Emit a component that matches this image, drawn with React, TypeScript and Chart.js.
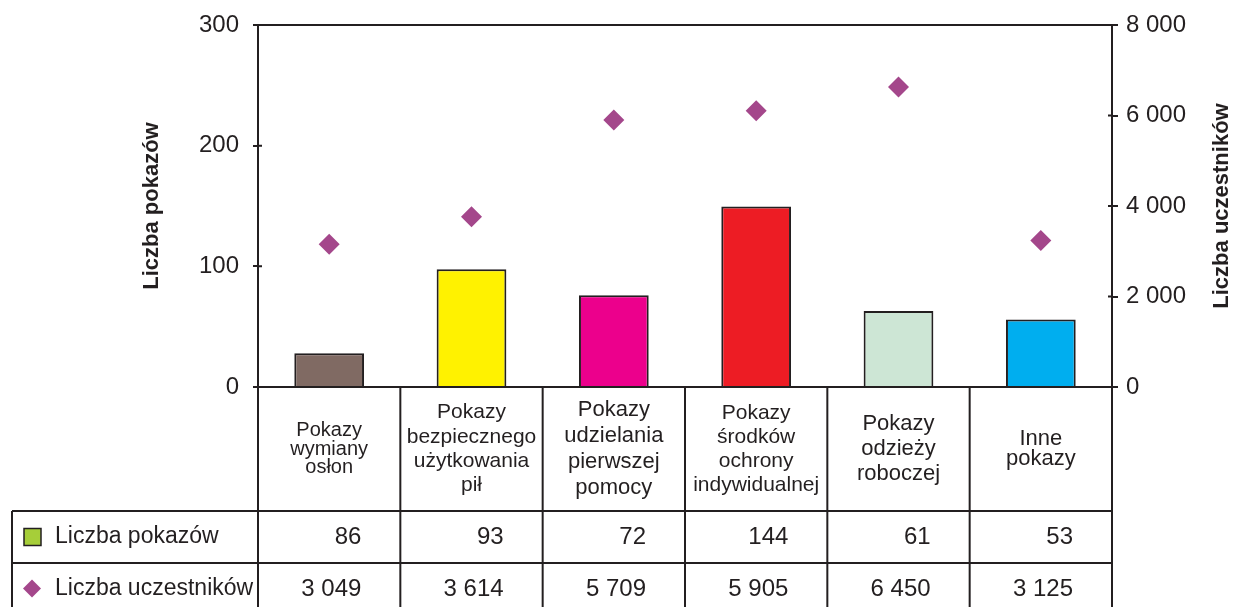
import React, { useEffect, useRef } from "react";
import { Chart, registerables } from "chart.js";

Chart.register(...registerables);

// ---- data ----
const categories: string[][] = [
  ["Pokazy", "wymiany", "osłon"],
  ["Pokazy", "bezpiecznego", "użytkowania", "pił"],
  ["Pokazy", "udzielania", "pierwszej", "pomocy"],
  ["Pokazy", "środków", "ochrony", "indywidualnej"],
  ["Pokazy", "odzieży", "roboczej"],
  ["Inne", "pokazy"],
];
// bar heights as drawn in the picture (left axis)
const barValues = [28, 97.5, 76, 149.5, 63, 56];
// diamond positions as drawn in the picture (right axis)
const participantValues = [3155, 3760, 5900, 6105, 6630, 3235];
// values printed in the data table
const tableCounts = [86, 93, 72, 144, 61, 53];
const tableParticipants = [3049, 3614, 5709, 5905, 6450, 3125];
const seriesNames = ["Liczba pokazów", "Liczba uczestników"];
const axisTitles = ["Liczba pokazów", "Liczba uczestników"];
const leftAxisRange = [0, 300, 100];
const rightAxisRange = [0, 8000, 2000];

// ---- styles ----
const INK = "#231f20";
const FONT = "'Liberation Sans', Arial, Helvetica, sans-serif";
const barColors = ["#806a63", "#fff200", "#ec008c", "#ed1c24", "#cde6d5", "#00aeef"];
const diamondColor = "#a4478b";
const legendSquareColor = "#a6ce39";
const labelStyles = [
  { size: 20, lh: 18.5 },
  { size: 21, lh: 24.4 },
  { size: 22, lh: 26 },
  { size: 21, lh: 24 },
  { size: 22, lh: 25 },
  { size: 22, lh: 20 },
];

const fmt = (v: number) => String(v).replace(/\B(?=(\d{3})+(?!\d))/g, " ");

const tablePlugin = {
  id: "tablePlugin",
  afterDraw(chart: any) {
    const { ctx, chartArea } = chart;
    const { left, right, top, bottom } = chartArea;
    const H = chart.height;
    const n = categories.length;
    const cw = (right - left) / n;
    const xs = chart.scales.x;
    const row1Top = 511;
    const row2Top = 563;
    const tableLeft = 12;

    ctx.save();
    ctx.strokeStyle = INK;
    ctx.lineWidth = 2;
    ctx.beginPath();
    ctx.moveTo(left, top);
    ctx.lineTo(right, top);
    ctx.moveTo(left, bottom);
    ctx.lineTo(right, bottom);
    for (let i = 0; i <= n; i++) {
      const x = i < n ? xs.getPixelForValue(i) - cw / 2 : xs.getPixelForValue(n - 1) + cw / 2;
      const y0 = i === 0 || i === n ? top : bottom;
      ctx.moveTo(x, y0);
      ctx.lineTo(x, H);
    }
    ctx.moveTo(tableLeft, row1Top);
    ctx.lineTo(tableLeft, H);
    ctx.moveTo(tableLeft, row1Top);
    ctx.lineTo(right, row1Top);
    ctx.moveTo(tableLeft, row2Top);
    ctx.lineTo(right, row2Top);
    // inner tick marks
    const yl = chart.scales.y;
    yl.ticks.forEach((t: any) => {
      const y = yl.getPixelForValue(t.value);
      ctx.moveTo(left, y);
      ctx.lineTo(left + 4, y);
    });
    const yr = chart.scales.y1;
    yr.ticks.forEach((t: any) => {
      const y = yr.getPixelForValue(t.value);
      ctx.moveTo(right - 4, y);
      ctx.lineTo(right, y);
    });
    ctx.stroke();

    ctx.fillStyle = INK;
    ctx.textBaseline = "middle";
    // category labels
    const labelCenter = (bottom + row1Top) / 2;
    categories.forEach((lines, i) => {
      const st = labelStyles[i];
      const cx = xs.getPixelForValue(i);
      ctx.font = `${st.size}px ${FONT}`;
      ctx.textAlign = "center";
      lines.forEach((ln, j) => {
        const y = labelCenter + (j - (lines.length - 1) / 2) * st.lh;
        ctx.fillText(ln, cx, y);
      });
    });
    // table values
    const r1 = (row1Top + row2Top) / 2;
    const r2 = row2Top + 26.5;
    ctx.font = `24px ${FONT}`;
    ctx.textAlign = "right";
    for (let i = 0; i < n; i++) {
      const xr = xs.getPixelForValue(i) + cw / 2 - 39;
      ctx.fillText(String(tableCounts[i]), xr, r1);
      ctx.fillText(fmt(tableParticipants[i]), xr, r2);
    }
    // legend
    ctx.fillStyle = legendSquareColor;
    ctx.fillRect(24, r1 - 8.5, 17, 17);
    ctx.lineWidth = 1.5;
    ctx.strokeRect(24, r1 - 8.5, 17, 17);
    ctx.fillStyle = diamondColor;
    ctx.beginPath();
    ctx.moveTo(23, r2 - 1);
    ctx.lineTo(32, r2 - 10);
    ctx.lineTo(41, r2 - 1);
    ctx.lineTo(32, r2 + 8);
    ctx.closePath();
    ctx.fill();
    ctx.fillStyle = INK;
    ctx.font = `23px ${FONT}`;
    ctx.textAlign = "left";
    ctx.fillText(seriesNames[0], 55, r1);
    ctx.fillText(seriesNames[1], 55, r2 - 1);

    // axis titles
    ctx.font = `bold 22px ${FONT}`;
    ctx.textAlign = "center";
    const midY = (top + bottom) / 2;
    ctx.save();
    ctx.translate(152, midY);
    ctx.rotate(-Math.PI / 2);
    ctx.fillText(axisTitles[0], 0, 0);
    ctx.restore();
    ctx.save();
    ctx.translate(1222, midY);
    ctx.rotate(-Math.PI / 2);
    ctx.fillText(axisTitles[1], 0, 0);
    ctx.restore();

    ctx.restore();
  },
};

export default function App() {
  const ref = useRef<HTMLCanvasElement>(null);
  useEffect(() => {
    if (!ref.current) return;
    const chart = new Chart(ref.current, {
      type: "bar",
      data: {
        labels: categories.map((c) => c.join(" ")),
        datasets: [
          {
            type: "line",
            label: seriesNames[1],
            data: participantValues,
            yAxisID: "y1",
            showLine: false,
            pointStyle: "rectRot",
            pointRadius: 10.5,
            pointBackgroundColor: diamondColor,
            pointBorderColor: diamondColor,
            pointBorderWidth: 0,
            order: 0,
          } as any,
          {
            type: "bar",
            label: seriesNames[0],
            data: barValues,
            yAxisID: "y",
            backgroundColor: barColors,
            borderColor: INK,
            borderWidth: 2,
            barPercentage: 0.49,
            categoryPercentage: 1,
            order: 1,
          },
        ],
      },
      options: {
        responsive: false,
        animation: false,
        devicePixelRatio: 1,
        layout: { padding: { left: 0, right: 0, top: 25, bottom: 220 } },
        plugins: { legend: { display: false }, tooltip: { enabled: false } },
        scales: {
          x: { display: false },
          y: {
            position: "left",
            min: leftAxisRange[0],
            max: leftAxisRange[1],
            ticks: {
              stepSize: leftAxisRange[2],
              color: INK,
              padding: 14,
              font: { size: 24, family: FONT },
            },
            grid: {
              drawOnChartArea: false,
              drawTicks: true,
              tickLength: 5,
              color: INK,
              lineWidth: 2,
            },
            border: { display: true, color: INK, width: 2 },
            afterFit: (s: any) => {
              s.width = 258;
              s.paddingTop = 0;
              s.paddingBottom = 0;
            },
          },
          y1: {
            position: "right",
            min: rightAxisRange[0],
            max: rightAxisRange[1],
            ticks: {
              stepSize: rightAxisRange[2],
              color: INK,
              padding: 8,
              font: { size: 24, family: FONT },
              callback: (v: any) => fmt(Number(v)),
            },
            grid: {
              drawOnChartArea: false,
              drawTicks: true,
              tickLength: 6,
              color: INK,
              lineWidth: 2,
            },
            border: { display: true, color: INK, width: 2 },
            afterFit: (s: any) => {
              s.width = 1235 - 1112;
              s.paddingTop = 0;
              s.paddingBottom = 0;
            },
          },
        },
      } as any,
      plugins: [tablePlugin],
    });
    return () => chart.destroy();
  }, []);
  return (
    <div style={{ position: "fixed", left: 0, top: 0, width: 1235, height: 607, background: "#fff" }}>
      <canvas ref={ref} width={1235} height={607} style={{ width: 1235, height: 607 }} />
    </div>
  );
}
